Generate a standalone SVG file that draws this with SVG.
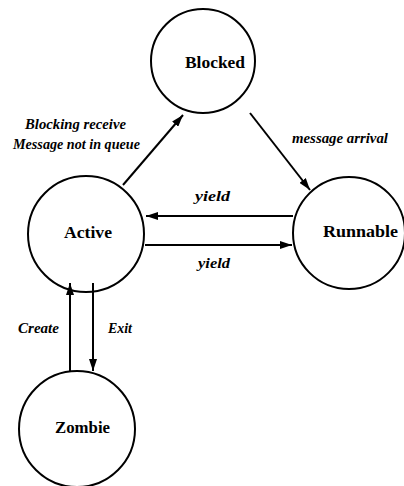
<svg xmlns="http://www.w3.org/2000/svg" width="404" height="486" viewBox="0 0 404 486">
  <style>
    .state circle { fill: #fff; stroke: #000; stroke-width: 2; }
    .state text { font-family: "Liberation Serif", "Times New Roman", serif; font-weight: bold; font-size: 16.5px; fill: #000; }
    .edge { stroke: #000; stroke-width: 2; fill: none; marker-end: url(#head); }
    .lbl { font-family: "Liberation Serif", "Times New Roman", serif; font-weight: bold; font-style: italic; font-size: 14px; fill: #000; }
  </style>
  <defs>
    <marker id="head" viewBox="0 0 12 8" refX="12" refY="4" markerWidth="6" markerHeight="4" orient="auto" markerUnits="strokeWidth">
      <path d="M0,0 L12,4 L0,8 Z" fill="#000"/>
    </marker>
  </defs>
  <rect width="404" height="486" fill="#fff"/>

  <g id="blocked" class="state">
    <circle cx="203" cy="61" r="52"/>
    <text x="185" y="68" textLength="60" lengthAdjust="spacingAndGlyphs">Blocked</text>
  </g>
  <g id="active" class="state">
    <circle cx="86" cy="234" r="58"/>
    <text x="64" y="238" textLength="48" lengthAdjust="spacingAndGlyphs">Active</text>
  </g>
  <g id="runnable" class="state">
    <circle cx="349" cy="233" r="56"/>
    <text x="323" y="237" textLength="75" lengthAdjust="spacingAndGlyphs">Runnable</text>
  </g>
  <g id="zombie" class="state">
    <circle cx="77" cy="429" r="58"/>
    <text x="55" y="433" textLength="55" lengthAdjust="spacingAndGlyphs">Zombie</text>
  </g>

  <g id="connectors">
    <line class="edge" x1="123" y1="185" x2="183" y2="115"/>
    <line class="edge" x1="250" y1="113" x2="310" y2="190"/>
    <line class="edge" x1="293" y1="216" x2="146" y2="216"/>
    <line class="edge" x1="145" y1="245" x2="292" y2="245"/>
    <line class="edge" x1="70" y1="372" x2="70" y2="283"/>
    <line class="edge" x1="93" y1="283" x2="93" y2="371"/>
  </g>

  <g id="labels">
    <text class="lbl" x="25" y="129" textLength="101" lengthAdjust="spacingAndGlyphs">Blocking receive</text>
    <text class="lbl" x="13" y="149" textLength="127" lengthAdjust="spacingAndGlyphs">Message not in queue</text>
    <text class="lbl" x="292" y="143" textLength="96" lengthAdjust="spacingAndGlyphs">message arrival</text>
    <text class="lbl" x="195" y="201" textLength="35" lengthAdjust="spacingAndGlyphs">yield</text>
    <text class="lbl" x="198" y="268" textLength="32" lengthAdjust="spacingAndGlyphs">yield</text>
    <text class="lbl" x="18" y="333" textLength="41" lengthAdjust="spacingAndGlyphs">Create</text>
    <text class="lbl" x="108" y="333" textLength="24" lengthAdjust="spacingAndGlyphs">Exit</text>
  </g>
</svg>
